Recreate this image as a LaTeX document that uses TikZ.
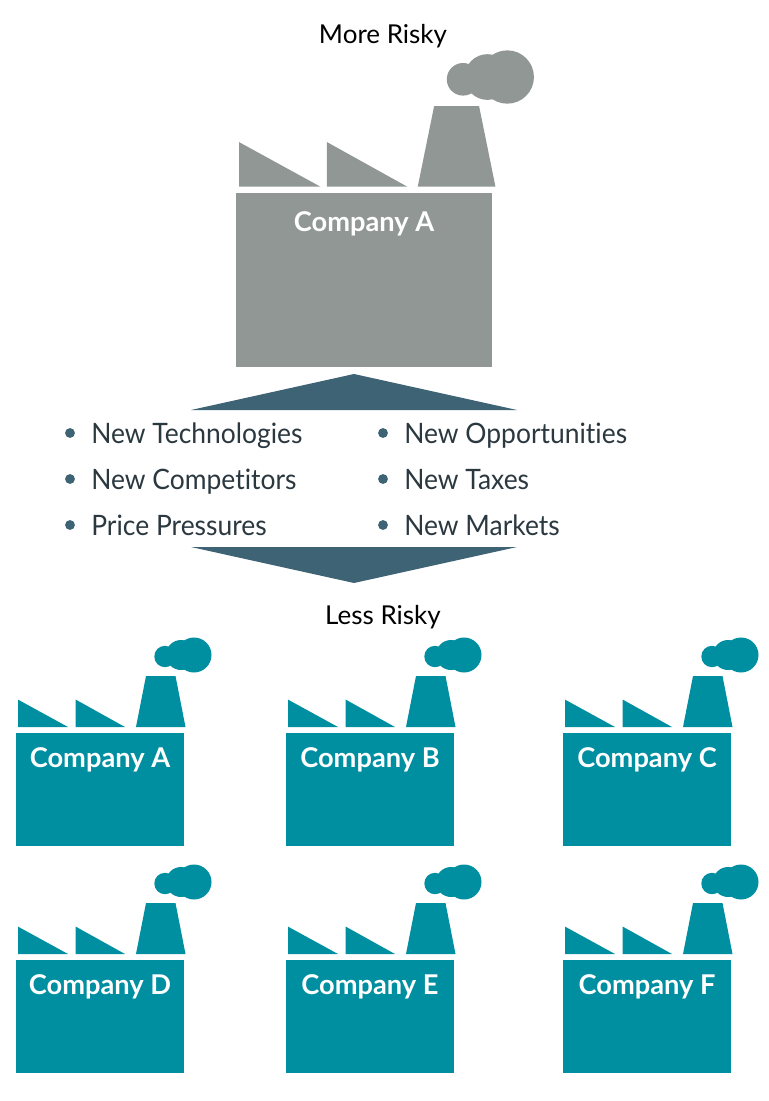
\documentclass[tikz,border=0pt]{standalone}
\usepackage{fontspec}
\setmainfont[Ligatures=NoCommon]{Lato}
\newfontfamily\listfont[Ligatures=NoCommon, FakeStretch=0.94]{Lato}
\usetikzlibrary{positioning}

\definecolor{riskgray}{HTML}{919795}
\definecolor{riskteal}{HTML}{008FA0}
\definecolor{riskslate}{HTML}{3D6375}
\definecolor{listink}{HTML}{2B3840}

\tikzset{
  heading/.style={anchor=base, font=\fontsize{14.8}{18}\selectfont, text=black, inner sep=0pt},
  company/.style={white, font=\fontsize{15.5}{18}\selectfont\bfseries, inner sep=0pt},
  bullet/.style={circle, fill=riskslate, minimum size=5.6pt, inner sep=0pt},
  listitem/.style={anchor=base west, font=\listfont\fontsize{16}{20}\selectfont, text=listink, inner sep=0pt},
}

% x, y of body corner, scale, colour, label, name, gap under the roof, label drop
\newcommand{\factory}[8]{
\begin{scope}[shift={(#1,#2)}, scale=#3]
\pgfmathsetmacro{\roofdiff}{6-#7}
\pgfmathsetmacro{\eavesrun}{1.82*\roofdiff}
\fill[#4] (0,0) rectangle (168,113.3+0.47*\roofdiff);
\fill[#4] (2,-33.4) -- (2,-#7) -- (52+\eavesrun,-#7) -- cycle;
\fill[#4] (59.7,-33.4) -- (59.7,-#7) -- (109+\eavesrun,-#7) -- cycle;
\fill[#4] (120-0.4*\roofdiff,-#7) -- (169.5+0.4*\roofdiff,-#7) -- (159.5,-57) -- (130,-57) -- cycle;
\fill[#4] (149,-76.5+\roofdiff) circle (10.7);
\fill[#4] (165,-78+\roofdiff) circle (15);
\fill[#4] (178,-78+\roofdiff) circle (17.5);
\node[company] (#6) at (84,#8) {#5};
\end{scope}
}

\begin{document}
\begin{tikzpicture}[x=0.02cm, y=-0.02cm]
\useasboundingbox (0,0) rectangle (768,1101);

\node[heading] (moreRisky) at (383,44) {More Risky};
\factory{236}{193}{1.524}{riskgray}{Company A}{bigA}{4.1}{20.3}

% Arrows round the list
\fill[riskslate] (191,410) -- (517,410) -- (354,374) -- cycle;
\fill[riskslate] (191,547) -- (517,547) -- (354,583) -- cycle;

% Left column
\foreach \i/\y/\txt in {1/443/New Technologies, 2/489/New Competitors, 3/535/Price Pressures}{
  \node[bullet] (bulletL\i) at (70,\y-10) {};
  \node[listitem] (itemL\i) at (91,\y) {\txt};
}
% Right column
\foreach \i/\y/\txt in {1/443/New Opportunities, 2/489/New Taxes, 3/535/New Markets}{
  \node[bullet] (bulletR\i) at (383,\y-10) {};
  \node[listitem] (itemR\i) at (404,\y) {\txt};
}

\node[heading] (lessRisky) at (383,624) {Less Risky};

% Small factories
\factory{16}{733}{1}{riskteal}{Company A}{smallA}{6}{26.5}
\factory{286}{733}{1}{riskteal}{Company B}{smallB}{6}{26.5}
\factory{563}{733}{1}{riskteal}{Company C}{smallC}{6}{26.5}
\factory{16}{960}{1}{riskteal}{Company D}{smallD}{6}{26.5}
\factory{286}{960}{1}{riskteal}{Company E}{smallE}{6}{26.5}
\factory{563}{960}{1}{riskteal}{Company F}{smallF}{6}{26.5}
\end{tikzpicture}
\end{document}
